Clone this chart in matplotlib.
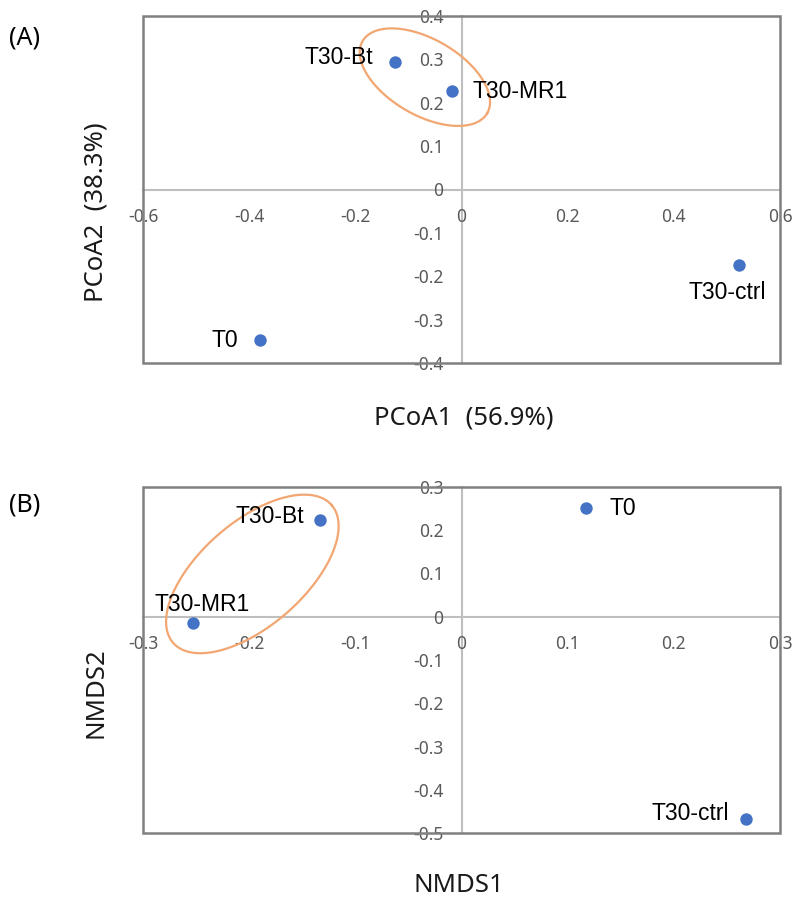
import numpy as np
import matplotlib.pyplot as plt

# (A) PCoA
pcoa_names = ["T30-Bt", "T30-MR1", "T30-ctrl", "T0"]
pcoa_x = [-0.126, -0.017, 0.523, -0.379]
pcoa_y = [0.295, 0.226, -0.175, -0.348]
pcoa_xticks = [-0.6, -0.4, -0.2, 0, 0.2, 0.4, 0.6]
pcoa_yticks = [-0.4, -0.3, -0.2, -0.1, 0, 0.1, 0.2, 0.3, 0.4]

# (B) NMDS
nmds_names = ["T30-Bt", "T30-MR1", "T0", "T30-ctrl"]
nmds_x = [-0.133, -0.253, 0.117, 0.268]
nmds_y = [0.224, -0.014, 0.251, -0.468]
nmds_xticks = [-0.3, -0.2, -0.1, 0, 0.1, 0.2, 0.3]
nmds_yticks = [-0.5, -0.4, -0.3, -0.2, -0.1, 0, 0.1, 0.2, 0.3]

TICKFONT = ["Noto Sans", "DejaVu Sans"]
LABFONT = ["Liberation Sans", "DejaVu Sans"]
BLUE = "#4472C4"
ORANGE = "#F2A672"


def fmt(v):
    if v == 0:
        return "0"
    return "%.1f" % v


def setup(ax, xt, yt):
    ax.set_xlim(xt[0], xt[-1])
    ax.set_ylim(yt[0], yt[-1])
    ax.spines["left"].set_position("zero")
    ax.spines["bottom"].set_position("zero")
    ax.spines["right"].set_visible(False)
    ax.spines["top"].set_visible(False)
    for s in ["left", "bottom"]:
        ax.spines[s].set_color("#BFBFBF")
        ax.spines[s].set_linewidth(1.5)
        ax.spines[s].set_zorder(1)
    ax.set_xticks(xt)
    ax.set_yticks(yt)
    ax.set_xticklabels([fmt(v) for v in xt])
    ax.set_yticklabels([fmt(v) for v in yt])
    ax.tick_params(length=0, labelsize=12.5, labelcolor="#595959")
    ax.tick_params(axis="x", pad=13)
    ax.tick_params(axis="y", pad=13)
    for t in ax.get_xticklabels() + ax.get_yticklabels():
        t.set_family(TICKFONT)
    box = plt.Rectangle((0, 0), 1, 1, transform=ax.transAxes, fill=False,
                        edgecolor="#808080", linewidth=1.8, zorder=2, clip_on=False)
    ax.add_patch(box)


def ellipse(ax, cx, cy, a, b, ang):
    # a, b in pixels, angle in degrees (screen orientation)
    bb = ax.get_window_extent()
    x0, x1 = ax.get_xlim()
    y0, y1 = ax.get_ylim()
    sx = bb.width / (x1 - x0)
    sy = bb.height / (y1 - y0)
    t = np.linspace(0, 2 * np.pi, 300)
    th = np.radians(ang)
    px = a * np.cos(t) * np.cos(th) - b * np.sin(t) * np.sin(th)
    py = a * np.cos(t) * np.sin(th) + b * np.sin(t) * np.cos(th)
    ax.plot(cx + px / sx, cy + py / sy, color=ORANGE, lw=1.6, zorder=3)


def label(ax, x, y, txt, dx, dy, ha):
    ax.annotate(txt, (x, y), xytext=(dx * 0.72, dy * 0.72), textcoords="offset points",
                ha=ha, va="center", fontsize=16.5, family=LABFONT, color="black", zorder=5)


fig = plt.figure(figsize=(7.93, 9.02), dpi=100)
axA = fig.add_axes([143 / 793, 1 - 363 / 902, 637 / 793, 347 / 902])
axB = fig.add_axes([143 / 793, 1 - 833 / 902, 637 / 793, 346 / 902])

setup(axA, pcoa_xticks, pcoa_yticks)
setup(axB, nmds_xticks, nmds_yticks)

axA.scatter(pcoa_x, pcoa_y, s=80, color=BLUE, zorder=4, linewidths=0)
axB.scatter(nmds_x, nmds_y, s=80, color=BLUE, zorder=4, linewidths=0)

offA = [(-21, 4, "right"), (20, 0, "left"), (-12, -27, "center"), (-22, 0, "right")]
for n, x, y, o in zip(pcoa_names, pcoa_x, pcoa_y, offA):
    label(axA, x, y, n, o[0], o[1], o[2])
offB = [(-16, 3, "right"), (9, 18, "center"), (24, 0, "left"), (-17, 6, "right")]
for n, x, y, o in zip(nmds_names, nmds_x, nmds_y, offB):
    label(axB, x, y, n, o[0], o[1], o[2])

ellipse(axA, -0.069, 0.259, 72, 38, -30)
ellipse(axB, -0.197, 0.099, 105, 52, 41)

tf = dict(fontsize=18.5, family=TICKFONT, color="#1a1a1a", ha="center", va="center")
fig.text(464 / 793, 1 - 418 / 902, "PCoA1  (56.9%)", **tf)
fig.text(96 / 793, 1 - 212 / 902, "PCoA2  (38.3%)", rotation=90, **tf)
fig.text(459 / 793, 1 - 885 / 902, "NMDS1", **tf)
fig.text(96 / 793, 1 - 693 / 902, "NMDS2", rotation=90, **tf)

pf = dict(fontsize=18, family=TICKFONT, color="black", ha="left", va="center")
fig.text(9 / 793, 1 - 38 / 902, "(A)", **pf)
fig.text(9 / 793, 1 - 505 / 902, "(B)", **pf)

fig.savefig("out.png", dpi=100)
